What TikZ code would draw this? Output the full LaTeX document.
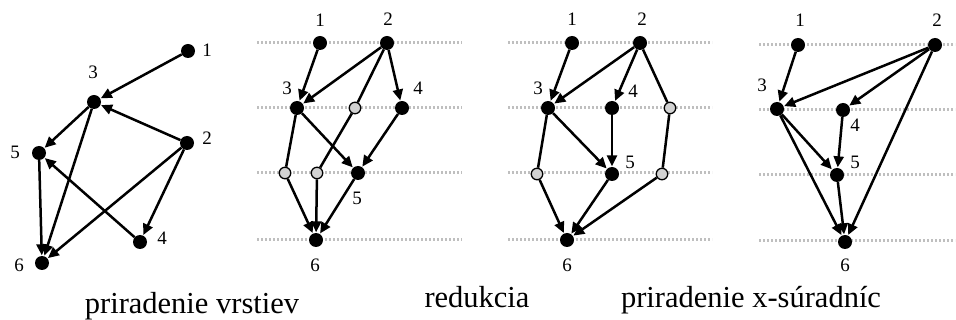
\documentclass[tikz,border=0pt]{standalone}
\usepackage{fontspec}
\setmainfont{Liberation Serif}
\usetikzlibrary{arrows.meta}
\tikzset{
  v/.style={circle, fill=black, inner sep=0pt, minimum size=14pt},
  dm/.style={circle, fill=gray!35, draw=black, line width=1.3pt, inner sep=0pt, minimum size=11.5pt},
  ed/.style={line width=2.5pt, -{Triangle[length=11pt,width=10pt]}, shorten >=0.5pt},
  ln/.style={line width=2.5pt},
  layer/.style={gray!50, line width=3pt, dash pattern=on 2pt off 2pt},
  lbl/.style={font=\fontsize{19}{19}\selectfont, inner sep=0pt},
  capt/.style={font=\fontsize{30.5}{30.5}\selectfont, inner sep=0pt, anchor=base},
}
\begin{document}
\begin{tikzpicture}[x=1pt,y=-1pt]
\useasboundingbox (0,0) rectangle (956,320);
% layer lines
\foreach \yy in {43,108,173,240} {
  \draw[layer] (257,\yy) -- (462,\yy);
  \draw[layer] (508,\yy) -- (712,\yy);
}
\foreach \yy in {45,110,175,241} {
  \draw[layer] (759,\yy) -- (955,\yy);
}
% ---------- panel 1 ----------
\node[v] (a1) at (188,51) {};
\node[v] (a3) at (94,102) {};
\node[v] (a2) at (187,143) {};
\node[v] (a5) at (39,153) {};
\node[v] (a4) at (140,242) {};
\node[v] (a6) at (42,263) {};
\node[lbl] (la1) at (207,50) {1};
\node[lbl] (la3) at (93,72) {3};
\node[lbl] (la2) at (207,138) {2};
\node[lbl] (la5) at (15,152) {5};
\node[lbl] (la4) at (162,238) {4};
\node[lbl] (la6) at (19,265) {6};
\draw[ed] (a1) -- (a3);
\draw[ed] (a2) -- (a3);
\draw[ed] (a3) -- (a5);
\draw[ed] (a3) -- (a6);
\draw[ed] (a4) -- (a5);
\draw[ed] (a2) -- (a4);
\draw[ed] (a2) -- (a6);
\draw[ed] (a5) -- (a6);
% ---------- panel 2 ----------
\node[v] (b1) at (320,43) {};
\node[v] (b2) at (387,43) {};
\node[v] (b3) at (297,108) {};
\node[dm] (bx) at (355,108) {};
\node[v] (b4) at (402,108) {};
\node[dm] (by) at (285,173) {};
\node[dm] (bz) at (317,173) {};
\node[v] (b5) at (358,173) {};
\node[v] (b6) at (316,240) {};
\node[lbl] (lb1) at (320,20) {1};
\node[lbl] (lb2) at (388,19) {2};
\node[lbl] (lb3) at (287,88) {3};
\node[lbl] (lb4) at (418,88) {4};
\node[lbl] (lb5) at (357,198) {5};
\node[lbl] (lb6) at (315,265) {6};
\draw[ed] (b1) -- (b3);
\draw[ed] (b2) -- (b3);
\draw[ln] (b2) -- (bx);
\draw[ed] (b2) -- (b4);
\draw[ln] (b3) -- (by);
\draw[ed] (b3) -- (b5);
\draw[ln] (bx) -- (bz);
\draw[ed] (b4) -- (b5);
\draw[ed] (by) -- (b6);
\draw[ed] (bz) -- (b6);
\draw[ed] (b5) -- (b6);
% ---------- panel 3 ----------
\node[v] (c1) at (572,43) {};
\node[v] (c2) at (640,43) {};
\node[v] (c3) at (548,108) {};
\node[v] (c4) at (612,108) {};
\node[dm] (cx) at (670,108) {};
\node[dm] (cy) at (537,174) {};
\node[v] (c5) at (612,174) {};
\node[dm] (cz) at (662,174) {};
\node[v] (c6) at (567,240) {};
\node[lbl] (lc1) at (572,19) {1};
\node[lbl] (lc2) at (642,19) {2};
\node[lbl] (lc3) at (538,88) {3};
\node[lbl] (lc4) at (633,91) {4};
\node[lbl] (lc5) at (630,162) {5};
\node[lbl] (lc6) at (567,265) {6};
\draw[ed] (c1) -- (c3);
\draw[ed] (c2) -- (c3);
\draw[ed] (c2) -- (c4);
\draw[ln] (c2) -- (cx);
\draw[ln] (c3) -- (cy);
\draw[ed] (c3) -- (c5);
\draw[ed] (c4) -- (c5);
\draw[ln] (cx) -- (cz);
\draw[ed] (cy) -- (c6);
\draw[ed] (c5) -- (c6);
\draw[ed] (cz) -- (c6);
% ---------- panel 4 ----------
\node[v] (d1) at (798,45) {};
\node[v] (d2) at (935,45) {};
\node[v] (d3) at (777,109) {};
\node[v] (d4) at (843,110) {};
\node[v] (d5) at (837,175) {};
\node[v] (d6) at (845,242) {};
\node[lbl] (ld1) at (800,20) {1};
\node[lbl] (ld2) at (937,20) {2};
\node[lbl] (ld3) at (762,85) {3};
\node[lbl] (ld4) at (855,125) {4};
\node[lbl] (ld5) at (855,162) {5};
\node[lbl] (ld6) at (845,265) {6};
\draw[ed] (d1) -- (d3);
\draw[ed] (d2) -- (d3);
\draw[ed] (d2) -- (d4);
\draw[ed] (d2) -- (d6);
\draw[ed] (d3) -- (d5);
\draw[ed] (d3) -- (d6);
\draw[ed] (d4) -- (d5);
\draw[ed] (d5) -- (d6);
% ---------- captions ----------
\node[capt] (cap1) at (192,314) {priradenie vrstiev};
\node[capt] (cap2) at (477,308) {redukcia};
\node[capt] (cap3) at (751,308) {priradenie x-súradníc};
\end{tikzpicture}
\end{document}
